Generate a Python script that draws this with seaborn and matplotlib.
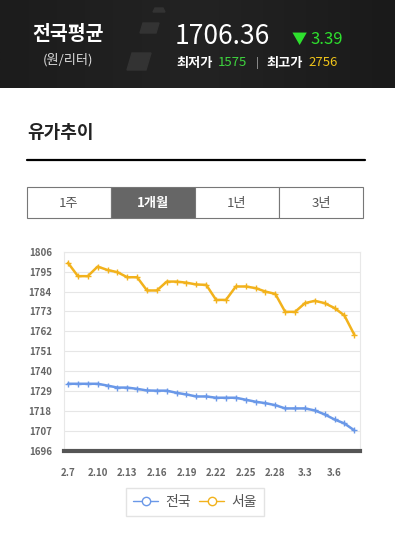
import matplotlib
matplotlib.use("Agg")
import matplotlib.pyplot as plt
import matplotlib.patches as mpatches
from matplotlib.lines import Line2D
import seaborn as sns
import pandas as pd
import numpy as np

# data (2.7 ~ 3.8, daily)
dates = ["2.7", "2.8", "2.9", "2.10", "2.11", "2.12", "2.13", "2.14", "2.15", "2.16",
         "2.17", "2.18", "2.19", "2.20", "2.21", "2.22", "2.23", "2.24", "2.25", "2.26",
         "2.27", "2.28", "3.1", "3.2", "3.3", "3.4", "3.5", "3.6", "3.7", "3.8"]
nation = [1733.1, 1733.1, 1733.1, 1733.1, 1732.1, 1731.0, 1731.0, 1730.3, 1729.4, 1729.3,
          1729.3, 1728.1, 1727.2, 1726.1, 1726.1, 1725.4, 1725.4, 1725.4, 1724.3, 1723.2,
          1722.4, 1721.3, 1719.5, 1719.5, 1719.5, 1718.4, 1716.2, 1713.4, 1711.2, 1707.4]
seoul = [1799.8, 1792.5, 1792.5, 1797.8, 1795.9, 1794.7, 1791.9, 1791.9, 1784.6, 1784.6,
         1789.5, 1789.5, 1788.9, 1787.9, 1787.7, 1779.4, 1779.4, 1786.8, 1786.8, 1785.9,
         1784.0, 1782.7, 1772.8, 1772.8, 1777.6, 1778.9, 1777.6, 1774.9, 1770.8, 1760.2]
series_names = ["전국", "서울"]
y_ticks = [1696, 1707, 1718, 1729, 1740, 1751, 1762, 1773, 1784, 1795, 1806]
x_tick_idx = [0, 3, 6, 9, 12, 15, 18, 21, 24, 27]
tabs = ["1주", "1개월", "1년", "3년"]

sns.set_style("white")
plt.rcParams['font.family'] = ['Noto Sans CJK KR', 'DejaVu Sans']

W, H = 395, 535
fig = plt.figure(figsize=(W / 100, H / 100), dpi=100)
fig.patch.set_facecolor("white")

def fx(x): return x / W
def fy(y): return 1 - y / H

# ---- dark header ----
hdr = fig.add_axes([0, fy(88), 1, 88 / H])
hdr.set_xlim(0, W); hdr.set_ylim(88, 0); hdr.axis("off")
grad = np.linspace(0, 1, 200).reshape(1, -1)
hdr.imshow(grad, extent=[0, W, 88, 0], cmap=matplotlib.colors.LinearSegmentedColormap.from_list(
    "h", ["#1c1c1c", "#232323", "#1a1a1a"]), aspect="auto")
for pts in [[(153, 12), (165, 12), (163, 8), (155, 8)],
            [(140, 33), (156, 33), (159, 23), (143, 23)],
            [(127, 70), (146, 70), (151, 53), (132, 53)]]:
    hdr.add_patch(mpatches.Polygon(pts, closed=True, color="#333333"))

fig.text(fx(68), fy(35), "전국평균", color="white", fontsize=14, fontweight="bold", ha="center", va="center")
fig.text(fx(68), fy(60), "(원/리터)", color="#dddddd", fontsize=9.5, ha="center", va="center")
fig.text(fx(175), fy(36), "1706.36", color="white", fontsize=19, ha="left", va="center")
fig.text(fx(292), fy(39), "▼", color="#2ee02e", fontsize=11, ha="left", va="center")
fig.text(fx(310), fy(39), "3.39", color="#2ee02e", fontsize=12, ha="left", va="center")
fig.text(fx(176), fy(63), "최저가", color="white", fontsize=9.5, fontweight="bold", ha="left", va="center")
fig.text(fx(218), fy(63), "1575", color="#3ed43e", fontsize=9.5, ha="left", va="center")
fig.text(fx(257), fy(63), "|", color="#aaaaaa", fontsize=8, ha="center", va="center")
fig.text(fx(266), fy(63), "최고가", color="white", fontsize=9.5, fontweight="bold", ha="left", va="center")
fig.text(fx(308), fy(63), "2756", color="#f0c419", fontsize=9.5, ha="left", va="center")

# ---- title and tabs ----
fig.text(fx(27), fy(132), "유가추이", color="#222222", fontsize=13, fontweight="bold", ha="left", va="center")
fig.add_artist(Line2D([fx(27), fx(365)], [fy(160), fy(160)], color="black", lw=1.6))

tab_x0, tab_w, tab_y0, tab_y1 = 27, 84, 187, 218
for i, t in enumerate(tabs):
    sel = i == 1
    fig.add_artist(mpatches.Rectangle((fx(tab_x0 + i * tab_w), fy(tab_y1)), tab_w / W, (tab_y1 - tab_y0) / H,
                                      facecolor="#666666" if sel else "white", edgecolor="#777777", lw=0.8))
    fig.text(fx(tab_x0 + i * tab_w + tab_w / 2), fy(203), t, color="white" if sel else "#555555",
             fontsize=9.5, fontweight="bold" if sel else "normal", ha="center", va="center")

# ---- line chart ----
df = pd.DataFrame({"idx": list(range(len(dates))) * 2,
                   "price": nation + seoul,
                   "지역": [series_names[0]] * len(dates) + [series_names[1]] * len(dates)})
colors = {"전국": "#6a98e8", "서울": "#f2b21c"}

ax = fig.add_axes([fx(64.3), fy(451), (360 - 64.3) / W, (451 - 251.7) / H])
sns.lineplot(data=df, x="idx", y="price", hue="지역", palette=colors, marker="+", markersize=5,
             markeredgewidth=1, linewidth=1.8, ax=ax, legend=False)
for ln in ax.get_lines():
    ln.set_markeredgecolor(ln.get_color())
    ln.set_linestyle("-")
ax.set_xlim(-0.38, 29.58)
ax.set_ylim(1696, 1806)
ax.set_yticks(y_ticks)
ax.set_xticks(x_tick_idx)
ax.set_xticklabels([dates[i] for i in x_tick_idx])
ax.set_xlabel(""); ax.set_ylabel("")
ax.grid(axis="y", color="#e6e6e6", lw=0.8)
ax.set_axisbelow(True)
ax.tick_params(length=0, labelsize=7, labelcolor="#666666")
ax.tick_params(axis="y", pad=9)
ax.tick_params(axis="x", pad=12)
for lab in ax.get_xticklabels() + ax.get_yticklabels():
    lab.set_fontweight("bold")
for s in ["left", "right", "top"]:
    ax.spines[s].set_color("#e8e8e8"); ax.spines[s].set_linewidth(0.8)
ax.spines["bottom"].set_color("#555555")
ax.spines["bottom"].set_linewidth(3)

handles = [Line2D([], [], color=colors[n], marker="o", markerfacecolor="white", markersize=6,
                  markeredgewidth=1, lw=1) for n in series_names]
leg = fig.legend(handles, series_names, loc="center", bbox_to_anchor=(fx(195), fy(502)), ncol=2,
                 frameon=True, fancybox=False, edgecolor="#dddddd", fontsize=10, handlelength=1.8,
                 columnspacing=0.6, handletextpad=0.5, borderpad=0.5)
for t in leg.get_texts():
    t.set_color("#555555")

fig.savefig("out.png", dpi=100)
